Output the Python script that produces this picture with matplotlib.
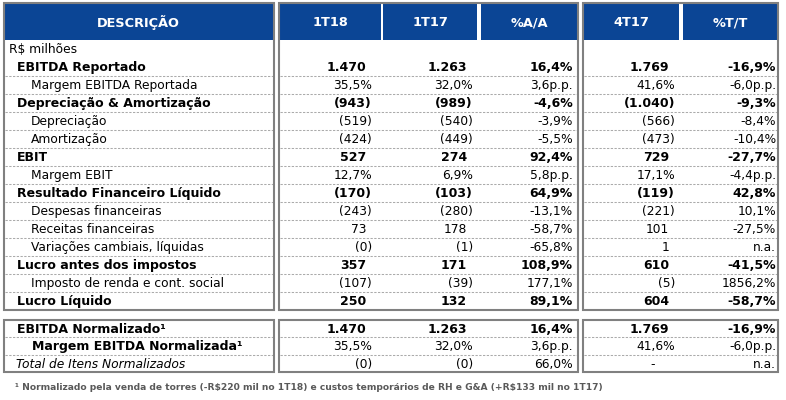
import matplotlib
matplotlib.use('Agg')
import matplotlib.pyplot as plt
from matplotlib.patches import Rectangle

plt.rcParams['text.parse_math'] = False  # plain "$" signs in the labels

# table content
headers = ['DESCRIÇÃO', '1T18', '1T17', '%A/A', '4T17', '%T/T']
labels = ['R$ milhões', 'EBITDA Reportado', 'Margem EBITDA Reportada', 'Depreciação & Amortização',
          'Depreciação', 'Amortização', 'EBIT', 'Margem EBIT', 'Resultado Financeiro Líquido',
          'Despesas financeiras', 'Receitas financeiras', 'Variações cambiais, líquidas',
          'Lucro antes dos impostos', 'Imposto de renda e cont. social', 'Lucro Líquido']
v_1t18 = ['', '1.470', '35,5%', '(943)', '(519)', '(424)', '527', '12,7%', '(170)', '(243)', '73', '(0)', '357', '(107)', '250']
v_1t17 = ['', '1.263', '32,0%', '(989)', '(540)', '(449)', '274', '6,9%', '(103)', '(280)', '178', '(1)', '171', '(39)', '132']
v_aa = ['', '16,4%', '3,6p.p.', '-4,6%', '-3,9%', '-5,5%', '92,4%', '5,8p.p.', '64,9%', '-13,1%', '-58,7%', '-65,8%', '108,9%', '177,1%', '89,1%']
v_4t17 = ['', '1.769', '41,6%', '(1.040)', '(566)', '(473)', '729', '17,1%', '(119)', '(221)', '101', '1', '610', '(5)', '604']
v_tt = ['', '-16,9%', '-6,0p.p.', '-9,3%', '-8,4%', '-10,4%', '-27,7%', '-4,4p.p.', '42,8%', '10,1%', '-27,5%', 'n.a.', '-41,5%', '1856,2%', '-58,7%']
level = [0, 1, 2, 1, 2, 2, 1, 2, 1, 2, 2, 2, 1, 2, 1]

norm_labels = ['EBITDA Normalizado¹', 'Margem EBITDA Normalizada¹', 'Total de Itens Normalizados']
n_1t18 = ['1.470', '35,5%', '(0)']
n_1t17 = ['1.263', '32,0%', '(0)']
n_aa = ['16,4%', '3,6p.p.', '66,0%']
n_4t17 = ['1.769', '41,6%', '-']
n_tt = ['-16,9%', '-6,0p.p.', 'n.a.']

footnote = '¹ Normalizado pela venda de torres (-R$220 mil no 1T18) e custos temporários de RH e G&A (+R$133 mil no 1T17)'

BLUE = '#0B4595'; GRAY = '#808080'; DASH = '#ababab'
FS = 8.8; FSB = 9.0

fig = plt.figure(figsize=(7.86, 4.0), dpi=100)
ax = fig.add_axes([0, 0, 1, 1]); ax.set_xlim(0, 786); ax.set_ylim(400, 0); ax.axis('off')

boxes = [(3.5, 273.5), (279, 578), (583, 778)]
hcells = [(4, 273), (280, 381), (383, 477), (481, 577), (584, 679), (683, 777.5)]
col_r = [372, 473, 573, 675, 776]
num_cols = [v_1t18, v_1t17, v_aa, v_4t17, v_tt]
norm_cols = [n_1t18, n_1t17, n_aa, n_4t17, n_tt]

def box_frame(y0, y1):
    for x0, x1 in boxes:
        ax.add_patch(Rectangle((x0, y0), x1 - x0, y1 - y0, fill=False, ec=GRAY, lw=1.5, zorder=5))

def dashes(ys):
    for y in ys:
        for x0, x1 in boxes:
            ax.plot([x0 + 1, x1 - 1], [y, y], color=DASH, lw=0.75, dashes=(2.2, 1.4), zorder=2)

def num(x, y, s, bold):
    w = 'bold' if bold else 'normal'
    if s == '-':
        ax.text(x - 22, y, s, ha='center', va='center', fontsize=FS, fontweight=w)
        return
    if s and s[-1].isdigit():
        x -= 6  # room kept for the closing parenthesis
    ax.text(x, y, s, ha='right', va='center', fontsize=FSB if bold else FS, fontweight=w)

# header
for (x0, x1), h in zip(hcells, headers):
    ax.add_patch(Rectangle((x0, 4), x1 - x0, 36, color=BLUE, lw=0, zorder=3))
    ax.text((x0 + x1) / 2, 22.5, h, color='white', ha='center', va='center', fontsize=9.3, fontweight='bold', zorder=4)

# main block
rh = 18
box_frame(3, 310)
dashes([58 + rh * i for i in range(1, 14)])
lab_x = {0: 9, 1: 17, 2: 31}
for i, lab in enumerate(labels):
    y = (49 if i == 0 else 58 + rh * (i - 1) + rh / 2) + 0.5
    bold = level[i] == 1
    ax.text(lab_x[level[i]], y, lab, ha='left', va='center', fontsize=FSB if bold else FS,
            fontweight='bold' if bold else 'normal')
    for c, vals in enumerate(num_cols):
        num(col_r[c], y, vals[i], bold)

# normalized block
box_frame(320, 372)
nh = 17.4
dashes([320 + nh, 320 + 2 * nh])
nlab_x = [17, 32, 16]
for i, lab in enumerate(norm_labels):
    y = 320 + nh * i + nh / 2 + 0.8
    style = 'italic' if i == 2 else 'normal'
    ax.text(nlab_x[i], y, lab, ha='left', va='center', fontsize=FSB if i < 2 else FS,
            fontweight='bold' if i < 2 else 'normal', fontstyle=style)
    for c, vals in enumerate(norm_cols):
        num(col_r[c], y, vals[i], i == 0)

ax.text(15, 387, footnote, ha='left', va='center', fontsize=6.6, fontweight='bold', color='#595959')

fig.savefig('out.png', dpi=100)
